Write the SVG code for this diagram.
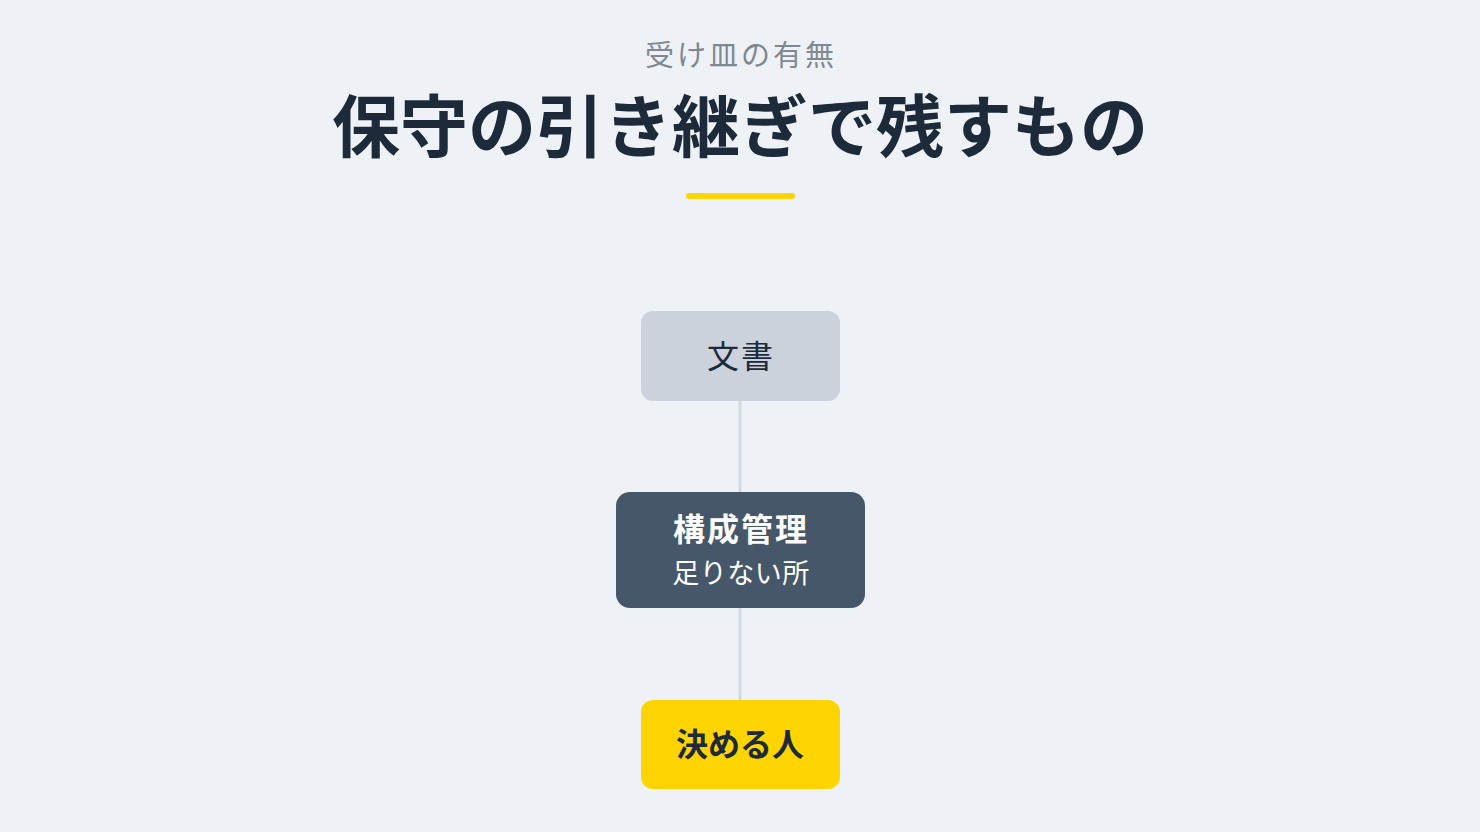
<svg xmlns="http://www.w3.org/2000/svg" width="1480" height="832" viewBox="0 0 1480 832">
<style>
.jp{font-family:"Noto Sans CJK JP","Noto Sans",sans-serif;text-anchor:middle}
.sub{font-size:29px;fill:#7f8893;letter-spacing:3px}
.title{font-size:68px;font-weight:700;fill:#1c2a3a}
.lbl{font-size:32px;fill:#1c2a3a}
.b{font-weight:700}
.w{fill:#ffffff}
.edge{stroke:#d3d9e0;stroke-width:3;fill:none}
</style>
<rect width="1480" height="832" fill="#eef2f7"/>
<text class="jp sub" x="741" y="66">受け皿の有無</text>
<text class="jp title" x="740" y="152">保守の引き継ぎで残すもの</text>
<rect x="686" y="193" width="109" height="6" rx="3" fill="#ffd400"/>
<g id="connectors">
<line class="edge" x1="740" y1="401" x2="740" y2="492"/>
<line class="edge" x1="740" y1="608" x2="740" y2="700"/>
</g>
<g id="node-doc">
<rect x="641" y="311" width="199" height="90" rx="12" fill="#cbd2dc"/>
<text class="jp lbl" x="741" y="368" letter-spacing="2">文書</text>
</g>
<g id="node-config">
<rect x="616" y="492" width="249" height="116" rx="14" fill="#46576a"/>
<text class="jp lbl b w" x="741" y="541" letter-spacing="2">構成管理</text>
<text class="jp w" x="741" y="583" font-size="27" letter-spacing="0.5">足りない所</text>
</g>
<g id="node-decider">
<rect x="641" y="700" width="199" height="89" rx="12" fill="#ffd400"/>
<text class="jp lbl b" x="740" y="756">決める人</text>
</g>
</svg>
